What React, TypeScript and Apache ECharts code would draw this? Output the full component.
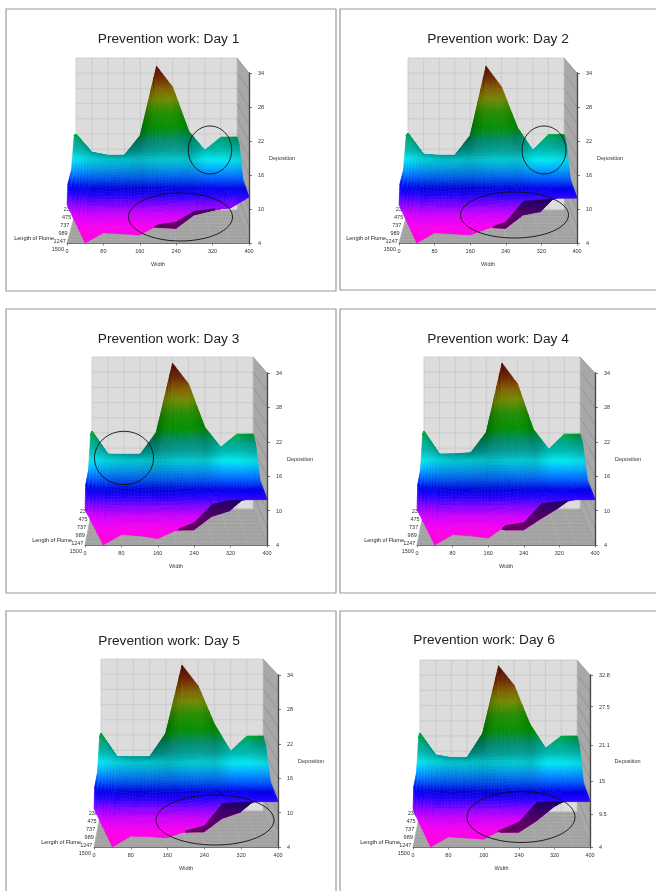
import React, { useEffect, useRef } from "react";
import * as echarts from "echarts";

const widthColumns = [0, 40, 80, 120, 160, 200, 240, 280, 320, 360, 400];
const widthTicks = [0, 80, 160, 240, 320, 400];
const widthGridValues = [0, 40, 80, 120, 160, 200, 240, 280, 320, 360, 400];
const depositionTicks = [4, 10, 16, 22, 28, 34];
const depositionTicksDay6 = [4, 9.5, 15, 21.1, 27.5, 32.8];
const lengthLabels = ["238", "475", "737", "989", "1247", "1500"];
const rowDepths = [0, 0.2, 0.5, 0.9, 1];
const rowSubdivisions = [40, 16, 18, 8];
const columnSubdivisions = 6;
const columnShade = [1, 0.8, 0.76, 0.72, 0.62, 0.72, 0.76, 0.72, 1, 1, 0.82];

// Deposition heights per day, one row per flume position, back to front.
const sharedSecond = [19.6, 15.6, 14.5, 14.9, 15.6, 15.6, 15.6, 14.5, 15.6, 16.3, 17.8];
const sharedThird = [14.5, 8, 8, 8, 8, 8, 8.4, 9.6, 9.8, 10.8, 12.6];
const day6Second = [19, 15.4, 14.1, 14.5, 15.4, 15.4, 15.4, 14.1, 15.4, 16.1, 17.5];
const day6Third = [14.1, 7.8, 7.8, 7.8, 7.8, 7.8, 8.2, 9.4, 9.6, 10.5, 12.2];

const day1Rows = [
  [19, 15.4, 14.8, 14.8, 18.8, 32.4, 28.3, 19.6, 15.8, 18.4, 18.4],
  sharedSecond,
  sharedThird,
  [13.9, 4.8, 6.8, 6.8, 6.8, 6.2, 6, 8.4, 9.2, 9.9, 12.3],
  [10.7, 4, 5.8, 5.6, 5.4, 7.2, 7.7, 9.6, 10, 10.2, 12.1],
];
const day2Rows = [
  [19.2, 15, 14.8, 14.8, 18.8, 32.4, 28.3, 20.4, 15.8, 18.9, 18.9],
  sharedSecond,
  sharedThird,
  [13.9, 4.8, 6.8, 6.8, 6.8, 6.2, 6, 8.4, 9, 12.2, 12.2],
  [10.7, 4, 5.8, 5.6, 5.4, 6.6, 7.7, 11.4, 11.6, 11.9, 11.9],
];
const day3Rows = [
  [19.4, 14.8, 14.8, 14.8, 19.2, 32.8, 28.7, 20.2, 16.2, 18.8, 18.8],
  sharedSecond,
  sharedThird,
  [13.9, 4.8, 6.8, 6.8, 6.8, 6, 6, 8.4, 9.4, 12.2, 12.2],
  [10.2, 4, 5.8, 5.6, 5.1, 6.6, 7.9, 11.1, 11.8, 11.9, 11.9],
];
const day4Rows = [
  [19.4, 14.8, 14.9, 15.1, 19.2, 32.8, 28.7, 19.8, 15.8, 18.8, 18.8],
  sharedSecond,
  sharedThird,
  [13.9, 4.8, 6.8, 6.8, 6.8, 6, 6, 8, 9.9, 12.2, 12.2],
  [10.2, 4, 5.8, 5.6, 5.2, 7.4, 7.9, 11.2, 11.6, 11.9, 11.9],
];
const day5Rows = [
  [19.4, 14.7, 14.7, 14.7, 19.4, 32.8, 28.7, 21.2, 15.8, 18.8, 18.8],
  sharedSecond,
  sharedThird,
  [13.9, 4.8, 6.8, 6.8, 6.8, 6, 6, 8.4, 9.5, 12.2, 12.2],
  [10.7, 4, 5.9, 5.8, 5.6, 6.8, 7.7, 11.6, 11.8, 11.9, 11.9],
];
const day6Rows = [
  [19, 14.8, 14.3, 14.3, 19, 31.7, 28, 20.7, 16.1, 18.4, 18.4],
  day6Second,
  day6Third,
  [13.5, 4.8, 6.7, 6.7, 6.7, 5.9, 5.9, 7.8, 10.2, 11.9, 11.9],
  [10.2, 4, 5.7, 5.5, 5.3, 6.9, 8.2, 11.5, 11.6, 11.6, 11.6],
];

// Page layout of each panel (pixels), kept apart from the data.
const panels = [
  { title: "Prevention work: Day 1", titleX: 163.5, titleY: 33, left: 67, right: 249, top: 73, bottom: 243, backLeft: 76, backRight: 237, backTop: 58, rows: day1Rows, zMax: 34, ticks: depositionTicks, box: [6, 9, 330, 282] },
  { title: "Prevention work: Day 2", titleX: 493, titleY: 33, left: 399, right: 577, top: 73, bottom: 243, backLeft: 408, backRight: 564, backTop: 58, rows: day2Rows, zMax: 34, ticks: depositionTicks, box: [340, 9, 320, 281] },
  { title: "Prevention work: Day 3", titleX: 163.5, titleY: 333, left: 85, right: 267, top: 373, bottom: 545, backLeft: 92, backRight: 253, backTop: 357, rows: day3Rows, zMax: 34, ticks: depositionTicks, box: [6, 309, 330, 284] },
  { title: "Prevention work: Day 4", titleX: 493, titleY: 333, left: 417, right: 595, top: 373, bottom: 545, backLeft: 424, backRight: 580, backTop: 357, rows: day4Rows, zMax: 34, ticks: depositionTicks, box: [340, 309, 320, 284] },
  { title: "Prevention work: Day 5", titleX: 164, titleY: 635, left: 94, right: 278, top: 675, bottom: 847, backLeft: 101, backRight: 263, backTop: 659, rows: day5Rows, zMax: 34, ticks: depositionTicks, box: [6, 611, 330, 290] },
  { title: "Prevention work: Day 6", titleX: 479, titleY: 634, left: 413, right: 590, top: 675, bottom: 847, backLeft: 420, backRight: 577, backTop: 660, rows: day6Rows, zMax: 32.8, ticks: depositionTicksDay6, box: [340, 611, 320, 290] },
];

const ovals = [
  [210, 150, 21.7, 24],
  [180.5, 217, 52, 24],
  [544, 150, 22, 24],
  [514.5, 215, 54, 23],
  [124, 458, 29.5, 26.7],
  [215, 820, 59, 25],
  [521, 817, 54, 25.5],
];

const colorStops: [number, number[]][] = [
  [0, [255, 0, 216]],
  [0.088, [255, 0, 240]],
  [0.165, [208, 0, 255]],
  [0.224, [128, 0, 255]],
  [0.28, [32, 0, 255]],
  [0.32, [0, 0, 232]],
  [0.38, [0, 96, 255]],
  [0.44, [0, 176, 255]],
  [0.488, [0, 232, 240]],
  [0.547, [0, 184, 176]],
  [0.606, [0, 168, 128]],
  [0.676, [0, 176, 0]],
  [0.77, [48, 176, 0]],
  [0.84, [144, 176, 0]],
  [0.9, [168, 128, 0]],
  [0.97, [144, 48, 0]],
  [1.03, [112, 16, 0]],
];

function rampColor(t: number, factor: number) {
  let a = colorStops[0];
  let b = colorStops[colorStops.length - 1];
  if (t <= a[0]) b = a;
  else if (t >= b[0]) a = b;
  else {
    for (let i = 0; i < colorStops.length - 1; i++) {
      if (t >= colorStops[i][0] && t <= colorStops[i + 1][0]) {
        a = colorStops[i];
        b = colorStops[i + 1];
        break;
      }
    }
  }
  const f = b[0] === a[0] ? 0 : (t - a[0]) / (b[0] - a[0]);
  const c = [0, 1, 2].map((k) => Math.min(255, Math.round((a[1][k] + (b[1][k] - a[1][k]) * f) * factor)));
  return `rgb(${c[0]},${c[1]},${c[2]})`;
}

const BACK_HEIGHT = 152;

function project(api: any, p: any, w: number, z: number, d: number) {
  const c = api.coord([w, z]);
  const bx = p.backLeft + (w / 400) * (p.backRight - p.backLeft);
  const by = p.backTop + ((c[1] - p.top) / (p.bottom - p.top)) * BACK_HEIGHT;
  return [bx + (c[0] - bx) * d, by + (c[1] - by) * d];
}

function renderWalls(p: any) {
  return (_params: any, api: any) => {
    const children: any[] = [];
    const fl = project(api, p, 0, 4, 1);
    const fr = project(api, p, 400, 4, 1);
    const bl = project(api, p, 0, 4, 0);
    const br = project(api, p, 400, 4, 0);
    const tl = project(api, p, 0, p.zMax, 0);
    const tr = project(api, p, 400, p.zMax, 0);
    const ftr = project(api, p, 400, p.zMax, 1);
    const poly = (points: number[][], fill: string) =>
      children.push({ type: "polygon", silent: true, shape: { points }, style: { fill } });
    const line = (a: number[], b: number[], stroke: string) =>
      children.push({ type: "line", silent: true, shape: { x1: a[0], y1: a[1], x2: b[0], y2: b[1] }, style: { stroke, lineWidth: 0.7 } });
    poly([tl, tr, br, bl], "#dcdcdc");
    poly([bl, br, fr, fl], "#a2a2a2");
    poly([tr, ftr, fr, br], "#a8a8a8");
    for (const w of widthGridValues) {
      line(project(api, p, w, 4, 0), project(api, p, w, p.zMax, 0), "#c4c4c9");
      line(project(api, p, w, 4, 0), project(api, p, w, 4, 1), "#afafaf");
    }
    for (let i = 0; i <= 10; i++) {
      const z = 4 + ((p.zMax - 4) * i) / 10;
      line(project(api, p, 0, z, 0), project(api, p, 400, z, 0), "#c4c4c9");
      line(project(api, p, 400, z, 0), project(api, p, 400, z, 1), "#8c8c8c");
      const d = i / 10;
      line(project(api, p, 0, 4, d), project(api, p, 400, 4, d), "#afafaf");
    }
    lengthLabels.forEach((label, i) => {
      const d = i / (lengthLabels.length - 1);
      const q = project(api, p, 0, 4, d);
      children.push({
        type: "text",
        silent: true,
        x: q[0] - 3,
        y: p.bottom + 6 - (lengthLabels.length - 1 - i) * 8,
        style: { text: label, fill: "#333", fontSize: 5.5, fontFamily: "Liberation Sans", align: "right", verticalAlign: "middle" },
      });
    });
    children.push({
      type: "text",
      silent: true,
      x: p.left - 13,
      y: p.bottom - 5,
      style: { text: "Length of Flume", fill: "#222", fontSize: 5.5, fontFamily: "Liberation Sans", align: "right", verticalAlign: "middle" },
    });
    return { type: "group", children };
  };
}

function renderCell(p: any) {
  return (_params: any, api: any) => {
    const r = api.value(2);
    const c = api.value(3);
    const rows = p.rows;
    const d0 = rowDepths[r];
    const d1 = rowDepths[r + 1];
    const w0 = widthColumns[c];
    const w1 = widthColumns[c + 1];
    const nr = rowSubdivisions[r];
    const height = (u: number, v: number) => {
      const a = rows[r][c] + (rows[r][c + 1] - rows[r][c]) * u;
      const b = rows[r + 1][c] + (rows[r + 1][c + 1] - rows[r + 1][c]) * u;
      return a + (b - a) * v;
    };
    const point = (u: number, v: number) =>
      project(api, p, w0 + (w1 - w0) * u, height(u, v), d0 + (d1 - d0) * v);
    const children: any[] = [];
    for (let i = 0; i < columnSubdivisions; i++) {
      const u0 = i / columnSubdivisions;
      const u1 = (i + 1) / columnSubdivisions;
      const um = (u0 + u1) / 2;
      const folded = point(um, 1)[1] - point(um, 0)[1] < -1;
      const shadeCol = columnShade[c] + (columnShade[c + 1] - columnShade[c]) * um;
      for (let j = 0; j < nr; j++) {
        const v0 = j / nr;
        const v1 = (j + 1) / nr;
        const a = point(u0, v0);
        const b = point(u1, v0);
        const e = point(u1, v1);
        const f = point(u0, v1);
        const midY = (a[1] + b[1] + e[1] + f[1]) / 4;
        const t = (p.bottom - midY) / (p.bottom - p.top);
        const dMid = d0 + (d1 - d0) * ((v0 + v1) / 2);
        const fade = Math.max(0, 1 - dMid / 0.5);
        const shade = folded ? 0.38 : 1 + (shadeCol - 1) * fade;
        const fill = rampColor(t, shade);
        children.push({
          type: "polygon",
          silent: true,
          shape: { points: [a, b, e, f] },
          style: { fill, stroke: fill, lineWidth: 0.5 },
        });
      }
    }
    return { type: "group", children };
  };
}

export default function App() {
  const ref = useRef<HTMLDivElement>(null);
  useEffect(() => {
    const chart = echarts.init(ref.current!, undefined, { renderer: "svg" });
    const series: any[] = [];
    panels.forEach((p, i) => {
      series.push({
        type: "custom",
        xAxisIndex: i,
        yAxisIndex: i,
        z: 1,
        silent: true,
        clip: false,
        data: [[0, 4]],
        encode: { x: 0, y: 1 },
        renderItem: renderWalls(p),
      });
      const cells: number[][] = [];
      for (let r = 0; r < rowDepths.length - 1; r++) {
        for (let c = 0; c < widthColumns.length - 1; c++) {
          cells.push([widthColumns[c], p.rows[r][c], r, c]);
        }
      }
      series.push({
        type: "custom",
        xAxisIndex: i,
        yAxisIndex: i,
        z: 2,
        silent: true,
        clip: false,
        data: cells,
        encode: { x: 0, y: 1 },
        renderItem: renderCell(p),
      });
    });
    const axisText = { fontSize: 5.5, color: "#333", fontFamily: "Liberation Sans" };
    chart.setOption({
      animation: false,
      backgroundColor: "#ffffff",
      title: panels.map((p) => ({
        text: p.title,
        left: p.titleX,
        top: p.titleY,
        textAlign: "center",
        textVerticalAlign: "middle",
        textStyle: { fontSize: 13.7, fontWeight: "normal", color: "#222", fontFamily: "Liberation Sans" },
      })),
      grid: panels.map((p) => ({
        left: p.left,
        top: p.top,
        width: p.right - p.left,
        height: p.bottom - p.top,
        containLabel: false,
      })),
      xAxis: panels.map((p, i) => ({
        type: "value",
        gridIndex: i,
        min: 0,
        max: 400,
        interval: widthTicks[1],
        name: "Width",
        nameLocation: "middle",
        nameGap: 18,
        nameTextStyle: axisText,
        z: 10,
        splitLine: { show: false },
        axisLine: { show: true, lineStyle: { color: "#555", width: 0.8 } },
        axisTick: { show: true, length: 2.5, lineStyle: { color: "#555", width: 0.7 } },
        axisLabel: { ...axisText, margin: 5, showMinLabel: true, showMaxLabel: true },
      })),
      yAxis: panels.map((p, i) => ({
        type: "value",
        gridIndex: i,
        position: "right",
        min: 4,
        max: p.zMax,
        name: "Deposition",
        nameLocation: "middle",
        nameRotate: 0,
        nameGap: 17,
        nameTextStyle: axisText,
        z: 10,
        splitLine: { show: false },
        axisLine: { show: true, onZero: false, lineStyle: { color: "#444", width: 1.3 } },
        axisTick: { show: true, length: 3, customValues: p.ticks, lineStyle: { color: "#444", width: 0.7 } },
        axisLabel: { ...axisText, margin: 9, customValues: p.ticks, showMinLabel: true, showMaxLabel: true },
      })),
      series,
      graphic: [
        ...panels.map((p) => ({
          type: "rect",
          silent: true,
          z: 0,
          shape: { x: p.box[0], y: p.box[1], width: p.box[2], height: p.box[3] },
          style: { fill: "none", stroke: "#9a9a9a", lineWidth: 1.2 },
        })),
        ...ovals.map((o) => ({
          type: "ellipse",
          silent: true,
          z: 20,
          shape: { cx: o[0], cy: o[1], rx: o[2], ry: o[3] },
          style: { fill: "none", stroke: "#111", lineWidth: 0.9 },
        })),
      ],
    });
    return () => chart.dispose();
  }, []);
  return (
    <div
      ref={ref}
      style={{ position: "fixed", left: 0, top: 0, width: 656, height: 891, filter: "blur(0.7px)" }}
    />
  );
}
